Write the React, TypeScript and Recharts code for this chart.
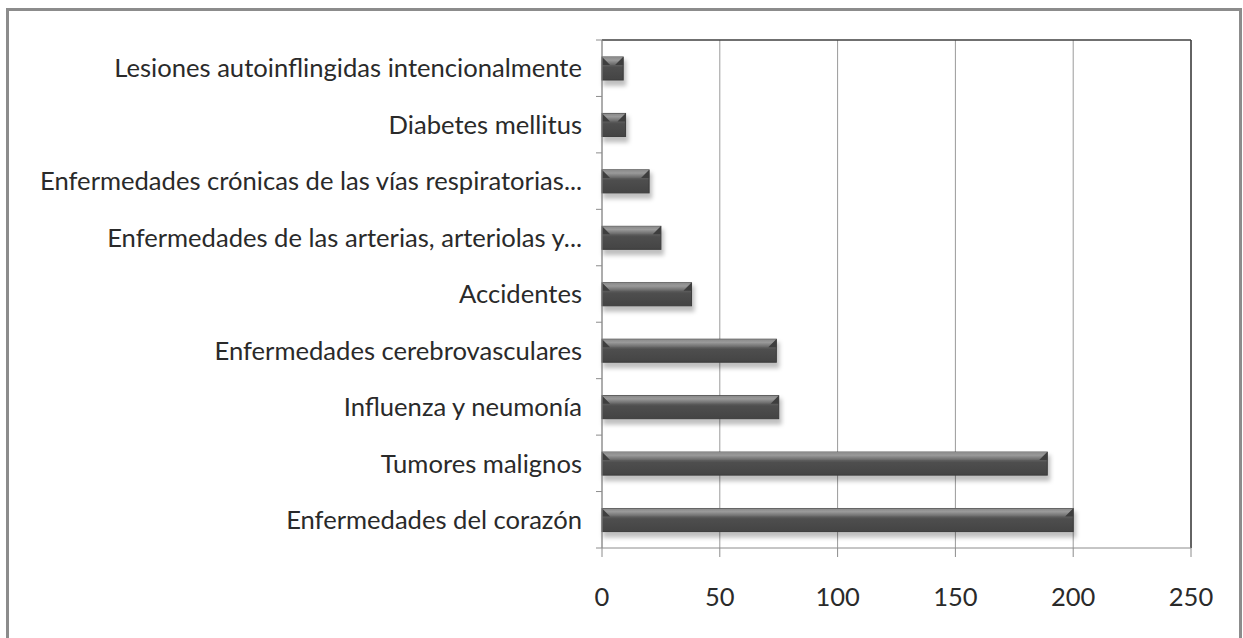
import { BarChart, Bar, XAxis, YAxis, CartesianGrid, ReferenceLine } from "recharts";

const CAUSES = [
  "Lesiones autoinflingidas intencionalmente",
  "Diabetes mellitus",
  "Enfermedades crónicas de las vías respiratorias...",
  "Enfermedades de las arterias, arteriolas y...",
  "Accidentes",
  "Enfermedades cerebrovasculares",
  "Influenza y neumonía",
  "Tumores malignos",
  "Enfermedades del corazón",
];
const DEATHS = [9, 10, 20, 25, 38, 74, 75, 189, 200];
const X_TICKS = [0, 50, 100, 150, 200, 250];

const W = 1243;
const H = 638;
const M_TOP = 39;
const TOP_AXIS_H = 1;
const M_BOTTOM = 50;
const X_AXIS_H = 40;
const PLOT_H = H - M_TOP - TOP_AXIS_H - M_BOTTOM - X_AXIS_H;
const BAND = PLOT_H / CAUSES.length;

const FONT = "Lato, 'Open Sans', sans-serif";
const TEXT = "#2a2a2a";

const data = CAUSES.map((name, i) => ({ name, value: DEATHS[i] }));

function CauseTick(props: any) {
  const { x, y, payload, index } = props;
  return (
    <g>
      <line x1={x} x2={x + 6} y1={y - BAND / 2} y2={y - BAND / 2} stroke="#8c8c8c" />
      {index === CAUSES.length - 1 && (
        <line x1={x} x2={x + 6} y1={y + BAND / 2} y2={y + BAND / 2} stroke="#8c8c8c" />
      )}
      <text x={x - 14} y={y} dy="0.36em" textAnchor="end" fontSize={25.6} fontFamily={FONT} fill={TEXT}>
        {payload.value}
      </text>
    </g>
  );
}

function BevelBar(props: any) {
  const { x, y, width, height } = props;
  if (!width || width <= 0) return null;
  const b = Math.min(8, width / 2.5, height / 2.5);
  return (
    <g>
      <rect x={x + 1} y={y + 3} width={width + 2} height={height + 3} fill="rgba(0,0,0,0.25)" filter="url(#barShadow)" />
      <rect x={x} y={y} width={width} height={height} fill="url(#barBody)" stroke="#3c3c3c" strokeWidth={1} />
      <polygon
        points={`${x},${y} ${x + width},${y} ${x + width - b},${y + b} ${x + b},${y + b}`}
        fill="url(#barTop)"
      />
      <polygon points={`${x},${y} ${x + b},${y + b} ${x},${y + b}`} fill="#3e3e3e" />
      <polygon points={`${x + width},${y} ${x + width - b},${y + b} ${x + width},${y + b}`} fill="#3e3e3e" />
    </g>
  );
}

export default function App() {
  return (
    <div style={{ position: "absolute", left: 0, top: 0, width: W, height: H, background: "#fff", overflow: "hidden" }}>
      <div
        style={{
          position: "absolute",
          left: 6,
          top: 8,
          width: 1236,
          height: 660,
          border: "3px solid #8c8c8c",
          boxSizing: "border-box",
        }}
      />
      <div style={{ position: "absolute", left: 0, top: 0 }}>
        <BarChart
          width={W}
          height={H}
          data={data}
          layout="vertical"
          margin={{ top: M_TOP, right: 52, bottom: M_BOTTOM, left: 0 }}
          barSize={23}
        >
          <defs>
            <linearGradient id="barBody" x1="0" y1="0" x2="0" y2="1">
              <stop offset="0%" stopColor="#6e6e6e" />
              <stop offset="35%" stopColor="#5e5e5e" />
              <stop offset="45%" stopColor="#4e4e4e" />
              <stop offset="100%" stopColor="#444" />
            </linearGradient>
            <linearGradient id="barTop" x1="0" y1="0" x2="0" y2="1">
              <stop offset="0%" stopColor="#8a8a8a" />
              <stop offset="40%" stopColor="#9a9a9a" />
              <stop offset="100%" stopColor="#666" />
            </linearGradient>
            <filter id="barShadow" x="-20%" y="-50%" width="140%" height="200%">
              <feGaussianBlur stdDeviation="2" />
            </filter>
          </defs>
          <CartesianGrid horizontal={false} stroke="#9a9a9a" />
          <XAxis
            type="number"
            domain={[0, 250]}
            ticks={X_TICKS}
            height={X_AXIS_H}
            tickSize={9}
            tickMargin={31}
            stroke="#8c8c8c"
            tick={{ fontSize: 25.5, fontFamily: FONT, fill: TEXT }}
            interval={0}
          />
          <XAxis
            xAxisId="top"
            orientation="top"
            type="number"
            domain={[0, 250]}
            ticks={X_TICKS}
            height={TOP_AXIS_H}
            tick={false}
            tickLine={false}
            axisLine={{ stroke: "#404040", strokeWidth: 1.5 }}
          />
          <YAxis
            type="category"
            dataKey="name"
            width={602}
            tickLine={false}
            tickSize={6}
            tickMargin={0}
            stroke="#8c8c8c"
            tick={<CauseTick />}
            interval={0}
          />
          <ReferenceLine x={250} stroke="#404040" strokeWidth={1.5} />
          <Bar dataKey="value" shape={<BevelBar />} isAnimationActive={false} />
        </BarChart>
      </div>
    </div>
  );
}
